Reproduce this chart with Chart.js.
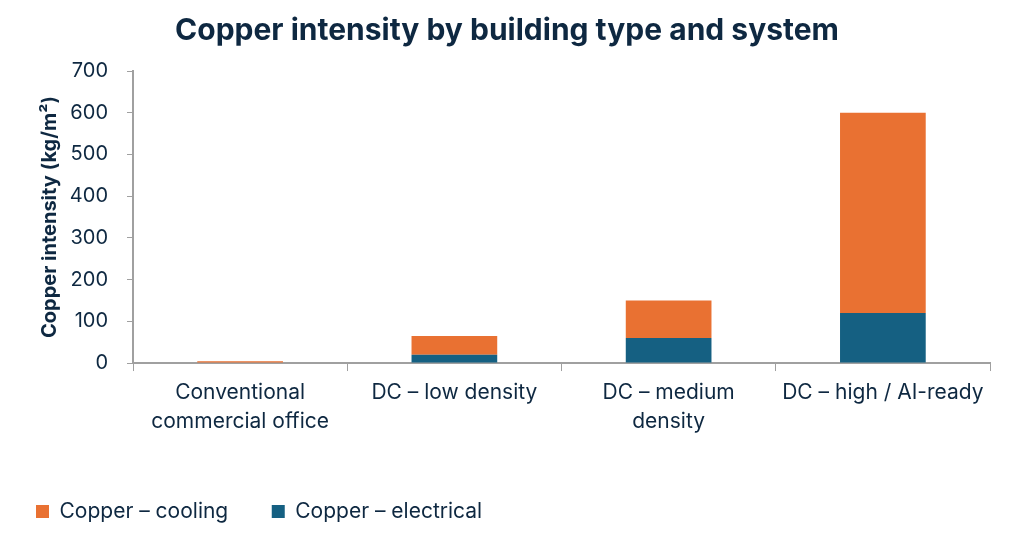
<!DOCTYPE html>
<html>
<head>
<meta charset="utf-8">
<script src="https://cdn.jsdelivr.net/npm/chart.js@4"></script>
<style>
  html, body { margin: 0; padding: 0; background: #fff; }
  #wrap { width: 1024px; height: 536px; }
</style>
</head>
<body>
<div id="wrap"><canvas id="chart"></canvas></div>
<script>
// Data
const categories = [
    ['Conventional', 'commercial office'],
    'DC \u2013 low density',
    ['DC \u2013 medium', 'density'],
    'DC \u2013 high / AI-ready'
];
const electrical = [1, 20, 60, 120];
const cooling = [3, 45, 90, 480];
const yTicks = [0, 100, 200, 300, 400, 500, 600, 700];

const textColor = '#0E2841';
const axisColor = '#A0A0A0';
const fontFamily = 'Inter, "Open Sans", sans-serif';

const ctx = document.getElementById('chart').getContext('2d');

new Chart(ctx, {
    type: 'bar',
    data: {
        labels: categories,
        datasets: [
            {
                label: 'Copper \u2013 electrical',
                data: electrical,
                backgroundColor: '#156082'
            },
            {
                label: 'Copper \u2013 cooling',
                data: cooling,
                backgroundColor: '#E97132'
            }
        ]
    },
    options: {
        responsive: true,
        maintainAspectRatio: false,
        animation: false,
        layout: { padding: { left: 24, right: 34, top: 4, bottom: 4 } },
        datasets: {
            bar: { categoryPercentage: 1, barPercentage: 0.4 }
        },
        plugins: {
            title: {
                display: true,
                text: 'Copper intensity by building type and system',
                color: textColor,
                font: { family: fontFamily, size: 30, weight: 'bold' },
                padding: { top: 9, bottom: 22 }
            },
            legend: {
                position: 'bottom',
                align: 'start',
                reverse: true,
                labels: {
                    color: textColor,
                    font: { family: fontFamily, size: 21 },
                    boxWidth: 13,
                    boxHeight: 13,
                    padding: 12,
                    // wider gap between the two legend entries
                    generateLabels(chart) {
                        const items = Chart.defaults.plugins.legend.labels.generateLabels(chart);
                        items.forEach(it => {
                            if (it.datasetIndex === 1) it.text += '\u2002\u2002\u2002';
                        });
                        return items;
                    }
                }
            },
            tooltip: { enabled: false }
        },
        scales: {
            x: {
                stacked: true,
                grid: {
                    drawOnChartArea: false,
                    drawTicks: true,
                    tickLength: 8,
                    color: axisColor,
                    offset: true
                },
                border: { color: axisColor, width: 2 },
                ticks: {
                    color: textColor,
                    font: { family: fontFamily, size: 21, lineHeight: 1.38 },
                    maxRotation: 0,
                    autoSkip: false,
                    padding: 7
                },
                afterFit(scale) { scale.height += 46; }
            },
            y: {
                stacked: true,
                min: 0,
                max: 700,
                afterBuildTicks(scale) {
                    scale.ticks = yTicks.map(v => ({ value: v }));
                },
                // fixed axis width so the plot starts where the reference does
                afterFit(scale) { scale.width = 109; },
                grid: {
                    drawOnChartArea: false,
                    drawTicks: true,
                    tickLength: 6,
                    color: axisColor
                },
                border: { color: axisColor, width: 2 },
                ticks: {
                    color: textColor,
                    font: { family: fontFamily, size: 20 },
                    padding: 19
                },
                title: {
                    display: true,
                    text: 'Copper intensity (kg/m\u00B2)',
                    color: textColor,
                    font: { family: fontFamily, size: 20, weight: 'bold' },
                    padding: { top: 14, bottom: 10 }
                }
            }
        }
    }
});
</script>
</body>
</html>
